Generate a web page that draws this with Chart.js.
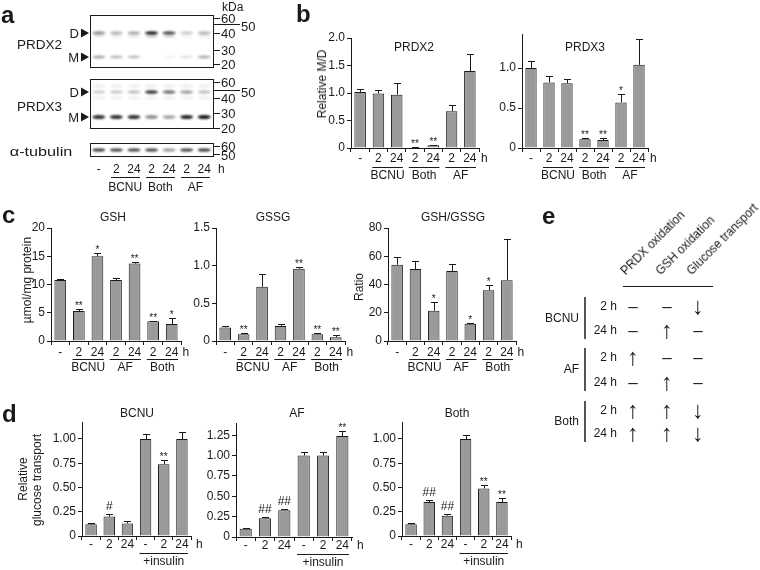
<!DOCTYPE html>
<html><head><meta charset="utf-8">
<script src="https://cdn.jsdelivr.net/npm/chart.js@4"></script>
<style>
body{margin:0;width:760px;height:570px;background:#fff;position:relative;overflow:hidden;font-family:'Liberation Sans',Arial,sans-serif;color:#1a1a1a}
.t{position:absolute;white-space:nowrap;line-height:1;font-size:12px}
.L{position:absolute;font-weight:bold;font-size:24px;line-height:1}
.hl{position:absolute;background:#1a1a1a}
</style></head><body>
<canvas id="blot" width="270" height="200" style="position:absolute;left:0;top:0"></canvas>
<script>
/* ---------- data ---------- */
const timeTicks = ['-', '2', '24', '2', '24', '2', '24'];
const insTicks  = ['-', '2', '24', '-', '2', '24'];
const groupsB = [['BCNU', 1, 2], ['Both', 3, 4], ['AF', 5, 6]];
const groupsC = [['BCNU', 1, 2], ['AF', 3, 4], ['Both', 5, 6]];
const groupsD = [['+insulin', 3, 5]];

// b: relative M/D
const prdx2Mean = [1.02, 0.99, 0.97, 0.01, 0.05, 0.67, 1.40];
const prdx2Err  = [0.05, 0.06, 0.21, 0.004, 0.01, 0.11, 0.31];
const prdx2Sig  = ['', '', '', '**', '**', '', ''];
const prdx3Mean = [1.00, 0.82, 0.81, 0.11, 0.10, 0.57, 1.04];
const prdx3Err  = [0.09, 0.08, 0.05, 0.01, 0.025, 0.10, 0.32];
const prdx3Sig  = ['', '', '', '**', '**', '*', ''];

// c: glutathione
const gshMean   = [10.8, 5.3, 15.0, 10.8, 13.7, 3.5, 3.0];
const gshErr    = [0.2, 0.3, 0.6, 0.3, 0.3, 0.1, 1.0];
const gshSig    = ['', '**', '*', '', '**', '**', '*'];
const gssgMean  = [0.18, 0.09, 0.72, 0.20, 0.96, 0.09, 0.05];
const gssgErr   = [0.015, 0.01, 0.17, 0.03, 0.02, 0.015, 0.025];
const gssgSig   = ['', '**', '', '', '**', '**', '**'];
const ratioMean = [54, 51, 21.5, 49.5, 12.3, 36, 43];
const ratioErr  = [5.5, 5.4, 6, 5, 0.7, 4, 29.5];
const ratioSig  = ['', '', '*', '', '*', '*', ''];

// d: relative glucose transport
const bcnuMean = [0.12, 0.20, 0.13, 1.00, 0.74, 1.00];
const bcnuErr  = [0.01, 0.03, 0.02, 0.05, 0.04, 0.07];
const bcnuSig  = ['', '#', '', '', '**', ''];
const afMean   = [0.10, 0.23, 0.33, 1.00, 1.00, 1.24];
const afErr    = [0.01, 0.015, 0.02, 0.04, 0.04, 0.06];
const afSig    = ['', '##', '##', '', '', '**'];
const bothMean = [0.12, 0.35, 0.21, 1.00, 0.49, 0.35];
const bothErr  = [0.015, 0.02, 0.02, 0.04, 0.04, 0.04];
const bothSig  = ['', '##', '##', '', '**', '**'];

// a: blot band intensities per lane
const prdx2D  = [0.45, 0.3, 0.35, 0.95, 0.75, 0.2, 0.3];
const prdx2M  = [0.4, 0.3, 0.28, 0.0, 0.05, 0.12, 0.35];
const prdx3D  = [0.2, 0.22, 0.25, 0.85, 0.6, 0.4, 0.25];
const prdx3M  = [0.85, 0.85, 0.85, 0.45, 0.35, 0.9, 0.95];
const tubulin = [0.85, 0.8, 0.8, 0.8, 0.45, 0.8, 0.85];

// e: summary table
const eCols  = ['PRDX oxidation', 'GSH oxidation', 'Glucose transport'];
const eTreat = ['BCNU', 'AF', 'Both'];
const eTimes = ['2 h', '24 h'];
const eMarks = [
    [['–', '–', '↓'], ['–', '↑', '–']],
    [['↑', '–', '–'], ['–', '↑', '–']],
    [['↑', '↑', '↓'], ['↑', '↑', '↓']]
];

/* ---------- helpers ---------- */
const INK = '#1a1a1a', GREY = '#9a9a9a';
const FAM = "'Liberation Sans', Arial, sans-serif";
Chart.defaults.font.family = FAM;
Chart.defaults.font.size = 12;
Chart.defaults.color = INK;

function txt(s, x, y, al = 'c', size = 12, extra = '') {
    const d = document.createElement('div');
    d.className = 't';
    d.textContent = s;
    const tx = al === 'l' ? '0' : al === 'r' ? '-100%' : '-50%';
    d.style.cssText += `left:${x}px;top:${y}px;font-size:${size}px;transform:translate(${tx},-50%) ${extra}`;
    document.body.appendChild(d);
    return d;
}
function letter(s, x, base) {
    const d = document.createElement('div');
    d.className = 'L';
    d.textContent = s;
    d.style.left = x + 'px';
    d.style.top = (base - 20.5) + 'px';
    document.body.appendChild(d);
}
function hline(x, y, w, h, col) {
    const d = document.createElement('div');
    d.className = 'hl';
    d.style.cssText += `left:${x}px;top:${y}px;width:${w}px;height:${h}px` + (col ? `;background:${col}` : '');
    document.body.appendChild(d);
}

/* ---------- bar charts ---------- */
const YW = 40, PT = 14, PR = 16;
const rowB = { xh: 36, tp: -1, gl: 19, gy: 28, hx: 2 };
const rowC = { xh: 36, tp: 0, gl: 17.5, gy: 27, hx: 1.5 };
const rowD = { xh: 34, tp: -3, gl: 17, gy: 26, hx: 5 };

function barChart(p) {
    const [left, right, top, bottom] = p.box;
    const w = YW + (right - left) + PR;
    const h = PT + (bottom - top) + p.row.xh;
    const cv = document.createElement('canvas');
    cv.width = w; cv.height = h;
    cv.style.cssText = `position:absolute;left:${left - YW}px;top:${top - PT}px;width:${w}px;height:${h}px`;
    document.body.appendChild(cv);

    const extras = {
        id: 'extras',
        afterDatasetsDraw(chart) {
            const ctx = chart.ctx, ys = chart.scales.y;
            const meta = chart.getDatasetMeta(0);
            ctx.save();
            ctx.strokeStyle = INK; ctx.fillStyle = INK; ctx.lineWidth = 1;
            ctx.textAlign = 'center'; ctx.textBaseline = 'alphabetic';
            meta.data.forEach((bar, i) => {
                const yt = Math.round(ys.getPixelForValue(p.mean[i] + p.err[i])) + 0.5;
                const bx = Math.round(bar.x) + 0.5;
                ctx.beginPath();
                ctx.moveTo(bx, bar.y); ctx.lineTo(bx, yt);
                ctx.moveTo(bx - 3.5, yt); ctx.lineTo(bx + 3.5, yt);
                ctx.stroke();
                const s = p.sig[i];
                if (s) {
                    const hash = s[0] === '#';
                    ctx.font = (hash ? '12px ' : '10px ') + FAM;
                    ctx.fillText(s, bar.x, yt - (hash ? 5 : 1));
                }
            });
            ctx.restore();
        },
        afterDraw(chart) {
            const ctx = chart.ctx, xs = chart.scales.x, a = chart.chartArea, r = p.row;
            const cw = xs.getPixelForValue(1) - xs.getPixelForValue(0);
            ctx.save();
            ctx.fillStyle = INK; ctx.strokeStyle = INK; ctx.lineWidth = 1;
            ctx.font = '12px ' + FAM;
            ctx.textBaseline = 'middle'; ctx.textAlign = 'left';
            ctx.fillText('h', a.right + r.hx, a.bottom + 4 + r.tp + 7.2);
            ctx.textAlign = 'center';
            p.groups.forEach(([lab, g0, g1]) => {
                const x0 = xs.getPixelForValue(g0) - cw / 2 + 3;
                const x1 = xs.getPixelForValue(g1) + cw / 2 - 3;
                const yl = Math.round(a.bottom + r.gl) + 0.5;
                ctx.beginPath(); ctx.moveTo(x0, yl); ctx.lineTo(x1, yl); ctx.stroke();
                ctx.fillText(lab, (x0 + x1) / 2, a.bottom + r.gy);
            });
            ctx.restore();
        }
    };

    new Chart(cv, {
        type: 'bar',
        data: {
            labels: p.ticks,
            datasets: [{
                data: p.mean,
                backgroundColor: GREY, borderColor: INK, borderWidth: 1,
                categoryPercentage: 1, barPercentage: 0.63
            }]
        },
        options: {
            responsive: false, animation: false, devicePixelRatio: 1,
            layout: { padding: { top: PT, right: PR, left: 0, bottom: 0 } },
            plugins: { legend: { display: false }, tooltip: { enabled: false } },
            scales: {
                x: {
                    grid: { offset: true, drawOnChartArea: false, color: INK, tickLength: 4 },
                    border: { color: INK, width: 1 },
                    ticks: { color: INK, padding: p.row.tp, maxRotation: 0, autoSkip: false },
                    afterFit: s => { s.height = p.row.xh; }
                },
                y: {
                    min: 0, max: p.max,
                    grid: { drawOnChartArea: false, color: INK, tickLength: 4 },
                    border: { color: INK, width: 1 },
                    ticks: {
                        stepSize: p.step, includeBounds: false, color: INK, padding: 2,
                        callback: v => v === 0 ? '0' : v.toFixed(p.dec)
                    },
                    afterFit: s => { s.width = YW; }
                }
            }
        },
        plugins: [extras]
    });
}

barChart({ box: [351, 479, 38, 148], ticks: timeTicks, mean: prdx2Mean, err: prdx2Err, sig: prdx2Sig, groups: groupsB, max: 2, step: 0.5, dec: 1, row: rowB });
barChart({ box: [522, 648, 34, 148], ticks: timeTicks, mean: prdx3Mean, err: prdx3Err, sig: prdx3Sig, groups: groupsB, max: 1.425, step: 0.5, dec: 1, row: rowB });
barChart({ box: [51, 181, 228, 341], ticks: timeTicks, mean: gshMean, err: gshErr, sig: gshSig, groups: groupsC, max: 20, step: 5, dec: 0, row: rowC });
barChart({ box: [216, 345, 228, 341], ticks: timeTicks, mean: gssgMean, err: gssgErr, sig: gssgSig, groups: groupsC, max: 1.5, step: 0.5, dec: 1, row: rowC });
barChart({ box: [388, 516, 228, 341], ticks: timeTicks, mean: ratioMean, err: ratioErr, sig: ratioSig, groups: groupsC, max: 80, step: 20, dec: 0, row: rowC });
barChart({ box: [82, 191, 422, 536], ticks: insTicks, mean: bcnuMean, err: bcnuErr, sig: bcnuSig, groups: groupsD, max: 1.175, step: 0.25, dec: 2, row: rowD });
barChart({ box: [236, 352, 423, 537], ticks: insTicks, mean: afMean, err: afErr, sig: afSig, groups: groupsD, max: 1.4, step: 0.25, dec: 2, row: rowD });
barChart({ box: [402, 511, 422, 536], ticks: insTicks, mean: bothMean, err: bothErr, sig: bothSig, groups: groupsD, max: 1.175, step: 0.25, dec: 2, row: rowD });

/* ---------- titles & axis titles ---------- */
txt('PRDX2', 414, 47); txt('PRDX3', 585, 47);
txt('GSH', 113, 217); txt('GSSG', 273, 217); txt('GSH/GSSG', 453, 217);
txt('BCNU', 137, 413); txt('AF', 297, 413); txt('Both', 457, 413);
txt('Relative M/D', 322, 84, 'c', 12, 'rotate(-90deg)');
txt('µmol/mg protein', 27, 280, 'c', 12, 'rotate(-90deg)');
txt('Ratio', 359, 287, 'c', 12, 'rotate(-90deg)');
txt('Relative', 23, 479, 'c', 12, 'rotate(-90deg)');
txt('glucose transport', 37, 480, 'c', 12, 'rotate(-90deg)');

letter('a', 1, 23); letter('b', 296, 22); letter('c', 2, 223); letter('d', 2, 422); letter('e', 542, 224);

/* ---------- panel a: blot ---------- */
const bl = document.getElementById('blot').getContext('2d');
const BX0 = 90, BW = 123, LW = BW / 7;
function bands(vals, y, hh, tone) {
    bl.save();
    bl.filter = 'blur(0.9px)';
    vals.forEach((v, i) => {
        if (v <= 0) return;
        bl.fillStyle = `rgba(${tone},${tone},${tone},${v})`;
        bl.beginPath();
        bl.ellipse(BX0 + (i + 0.5) * LW, y, 6.5, hh, 0, 0, Math.PI * 2);
        bl.fill();
    });
    bl.restore();
}
bands(prdx2D, 33, 1.7, 15);
bands(prdx2D.map(v => v * 0.3), 36.5, 1.2, 60);
bands(prdx2M, 57, 1.5, 15);
bands(prdx3D.map(() => 0.12), 86, 1.5, 80);
bands(prdx3D, 92, 1.8, 15);
bands(prdx3D.map(() => 0.1), 98, 1.4, 80);
bands(prdx3M, 117, 2.0, 10);
bands(tubulin, 150, 1.6, 10);

bl.strokeStyle = INK; bl.lineWidth = 1;
bl.strokeRect(BX0 + 0.5, 15.5, BW, 52);
bl.strokeRect(BX0 + 0.5, 79.5, BW, 49);
bl.strokeRect(BX0 + 0.5, 143.5, BW, 13);
// size markers
const mk = (y, long) => { bl.beginPath(); bl.moveTo(BX0 + BW, y + 0.5); bl.lineTo(long ? 240 : 220, y + 0.5); bl.stroke(); };
[18, 33, 50, 64, 82, 98, 113, 128, 146, 154].forEach(y => mk(y, false));
[24, 90].forEach(y => mk(y, true));
// arrowheads for D / M
[33, 57, 92, 117].forEach(y => {
    bl.fillStyle = INK;
    bl.beginPath(); bl.moveTo(81, y - 4.5); bl.lineTo(89, y); bl.lineTo(81, y + 4.5); bl.closePath(); bl.fill();
});
txt('kDa', 222, 7, 'l', 12);
[['60', 18], ['40', 33], ['30', 50], ['20', 64], ['60', 82], ['40', 98], ['30', 113], ['20', 128], ['60', 146], ['50', 155]]
    .forEach(([s, y]) => txt(s, 221, y, 'l', 13));
txt('50', 241, 26, 'l', 13); txt('50', 241, 92, 'l', 13);
txt('D', 79, 33, 'r', 13); txt('M', 79, 57, 'r', 13);
txt('D', 79, 92, 'r', 13); txt('M', 79, 117, 'r', 13);
txt('PRDX2', 17, 45, 'l', 13.5); txt('PRDX3', 17, 107, 'l', 13.5);
txt('α-tubulin', 15, 152, 'l', 13.5, 'scaleX(1.2)');
timeTicks.forEach((s, i) => txt(s, BX0 + (i + 0.5) * LW, 169, 'c', 12));
txt('h', 218, 169, 'l', 12);
groupsB.forEach(([lab, g0, g1]) => {
    const x0 = BX0 + g0 * LW + 3, x1 = BX0 + (g1 + 1) * LW - 3;
    hline(x0, 177, x1 - x0, 1);
    txt(lab, (x0 + x1) / 2, 187, 'c', 12);
});

/* ---------- panel e: table ---------- */
const colX = [633, 667, 698];
const headX = [627, 662, 693];
eCols.forEach((s, i) => {
    const d = document.createElement('div');
    d.className = 't';
    d.textContent = s;
    d.style.cssText += `left:${headX[i]}px;top:${277 - 12}px;color:#1a1a1a;will-change:transform;` +
        'transform-origin:0 100%;transform:rotate(-45deg)';
    document.body.appendChild(d);
});
hline(623, 286, 90, 1);
const treatY = [318, 369, 421];
const rowY = [[306, 330], [357, 382], [410, 433]];
eTreat.forEach((lab, k) => {
    txt(lab, 579, treatY[k], 'r', 12);
    hline(584, rowY[k][0] - 9, 2, rowY[k][1] - rowY[k][0] + 18, '#555');
    eTimes.forEach((tm, j) => {
        txt(tm, 617, rowY[k][j], 'r', 12);
        eMarks[k][j].forEach((m, c) => txt(m, colX[c], rowY[k][j], 'c', m === '–' ? 17 : 24));
    });
});
</script>
</body></html>
